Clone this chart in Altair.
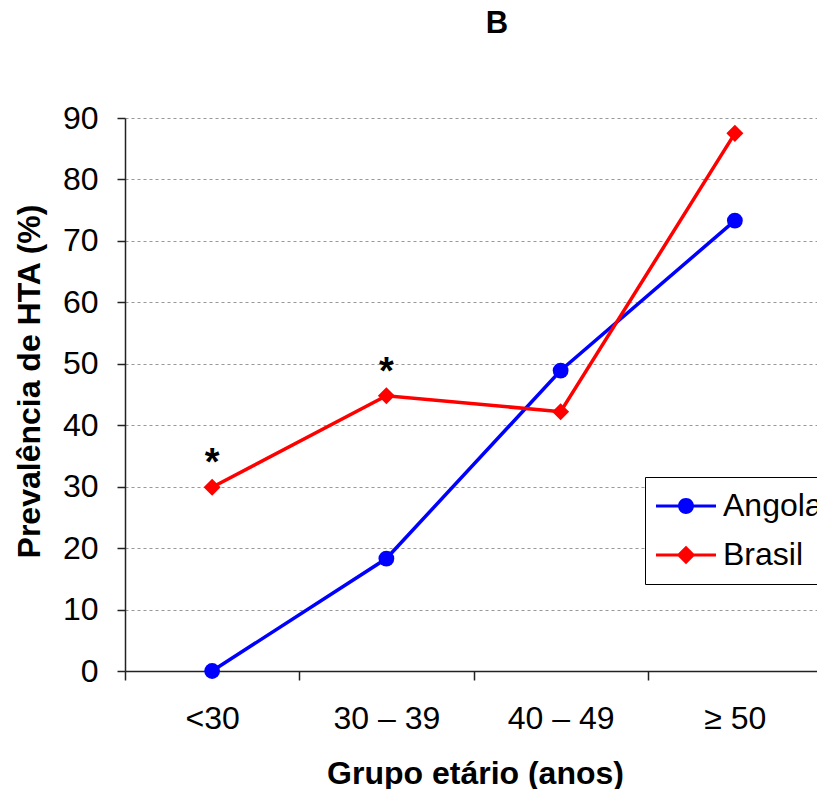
import altair as alt
import pandas as pd

# ---- data ----
categories = ["<30", "30 – 39", "40 – 49", "≥ 50"]
angola = [0.0, 18.3, 48.9, 73.3]
brasil = [29.9, 44.8, 42.2, 87.5]
series_names = ["Angola", "Brasil"]
series_colors = ["#0000FF", "#FF0000"]
series_shapes = ["circle", "diamond"]
series_sizes = [250, 290]
asterisk_cats = ["<30", "30 – 39"]
asterisk_vals = [29.9, 44.8]
y_ticks = [0, 10, 20, 30, 40, 50, 60, 70, 80, 90]

rows = []
for s, vals in zip(series_names, [angola, brasil]):
    for c, v in zip(categories, vals):
        rows.append({"grupo": c, "serie": s, "valor": v})
df = pd.DataFrame(rows)
ast_df = pd.DataFrame({"grupo": asterisk_cats, "valor": asterisk_vals})

FONT = "Liberation Sans"
FS = 32

x_enc = alt.X(
    "grupo:N",
    sort=categories,
    scale=alt.Scale(type="band", domain=categories, paddingInner=0, paddingOuter=0, range=[0, 697]),
    axis=alt.Axis(
        title="Grupo etário (anos)", labelAngle=0, tickBand="extent", grid=False,
        tickSize=9, labelPadding=23, labelFontSize=FS, labelFont=FONT, labelColor="black",
        titleFont=FONT, titleFontSize=FS, titleFontWeight="bold", titleColor="black",
        titleX=350, titleY=112, titleBaseline="alphabetic", titleAlign="center",
        domainColor="#222222", tickColor="#222222", domainWidth=1.5, tickWidth=1.5,
    ),
)
y_enc = alt.Y(
    "valor:Q",
    scale=alt.Scale(domain=[0, 90], nice=False, zero=True),
    axis=alt.Axis(
        values=y_ticks, title="Prevalência de HTA (%)", grid=True, gridDash=[3, 3],
        gridColor="#999999", gridWidth=1, tickSize=8, labelPadding=19,
        labelFontSize=FS, labelFont=FONT, labelColor="black",
        titleFont=FONT, titleFontSize=FS, titleFontWeight="bold", titleColor="black",
        titleX=-86, titleY=263, titleBaseline="alphabetic", titleAlign="center", titleAngle=270,
        domainColor="#222222", tickColor="#222222", domainWidth=1.5, tickWidth=1.5,
    ),
)

# legend glyphs: a short line segment with the series marker in the middle
ang_path = "M-2,-0.1H2V0.1H-2Z M-0.53,0A0.53,0.53 0 1,1 0.53,0A0.53,0.53 0 1,1 -0.53,0Z"
bra_path = "M-2,-0.1H2V0.1H-2Z M0,-0.62L0.62,0L0,0.62L-0.62,0Z"

legend = alt.Legend(
    title=None, orient="none", legendX=520, legendY=359, padding=13,
    symbolOffset=12, labelOffset=21, rowPadding=17, symbolSize=900,
    symbolOpacity=1, symbolStrokeWidth=0,
    labelFontSize=FS, labelFont=FONT, labelColor="black",
    strokeColor="black", fillColor="white",
)

color_enc = alt.Color("serie:N", scale=alt.Scale(domain=series_names, range=series_colors), legend=None)

base = alt.Chart(df)
lines = base.mark_line(strokeWidth=3.5).encode(x=x_enc, y=y_enc, color=color_enc)
points = base.mark_point(filled=True, opacity=1).encode(
    x=x_enc, y=y_enc, color=color_enc,
    shape=alt.Shape("serie:N", scale=alt.Scale(domain=series_names, range=series_shapes), legend=None),
    size=alt.Size("serie:N", scale=alt.Scale(domain=series_names, range=series_sizes), legend=None),
)
legend_layer = base.mark_point(filled=True, opacity=0).encode(
    x=x_enc, y=y_enc,
    fill=alt.Fill("serie:N", scale=alt.Scale(domain=series_names, range=series_colors), legend=legend),
    shape=alt.Shape("serie:N", scale=alt.Scale(domain=series_names, range=[ang_path, bra_path]), legend=legend),
)
asterisks = alt.Chart(ast_df).mark_text(
    text="*", fontSize=38, fontWeight="bold", font=FONT, dy=-12, baseline="alphabetic", color="black"
).encode(x=x_enc, y=y_enc)

chart = (
    alt.layer(lines, points, asterisks, legend_layer)
    .resolve_scale(shape="independent", size="independent", fill="independent")
    .properties(
        width=692, height=553,
        title=alt.TitleParams("B", fontSize=31, fontWeight="bold", font=FONT, anchor="middle",
                              dx=26, offset=62, color="black"),
        autosize=alt.AutoSizeParams(type="none"),
        padding={"left": 125, "top": 118, "right": 0, "bottom": 118},
    )
    .configure_view(stroke=None)
)

chart.save("out.html", embed_options={"renderer": "svg", "actions": False})
